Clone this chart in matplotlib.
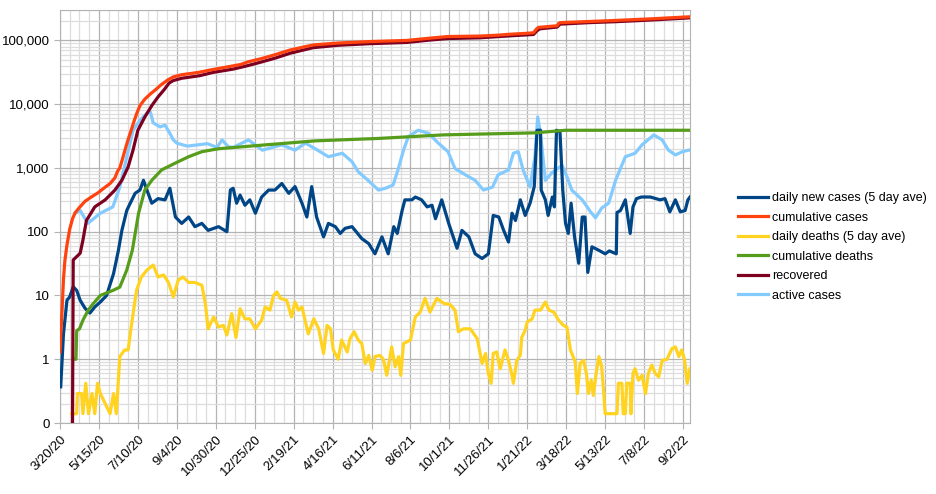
import pandas as pd
import matplotlib
matplotlib.use('Agg')
import matplotlib.pyplot as plt
import matplotlib.dates as mdates
from matplotlib.ticker import FixedLocator, LogLocator, NullFormatter

plt.rcParams['font.family'] = ['Liberation Sans', 'DejaVu Sans']

start = pd.Timestamp('2020-03-20')

# (days since 3/20/20, value)
new_cases = [(1, 0.37), (5, 2.5), (10, 8.4), (14, 9.5), (19, 13.7), (24, 12), (29, 8.4), (36, 6.3),
             (43, 5.3), (50, 6.6), (58, 7.9), (67, 10), (77, 22), (84, 51), (89, 105), (96, 215),
             (101, 280), (108, 400), (115, 450), (120, 640), (125, 450), (132, 280), (141, 330),
             (151, 316), (158, 480), (166, 170), (175, 135), (185, 170), (194, 120), (204, 135),
             (213, 105), (228, 120), (240, 100), (245, 450), (249, 480), (254, 280), (259, 375),
             (266, 260), (273, 316), (281, 195), (290, 350), (300, 450), (309, 450), (319, 570),
             (329, 400), (338, 510), (348, 280), (355, 170), (362, 510), (369, 170), (379, 83),
             (386, 135), (396, 120), (403, 94), (410, 113), (420, 120), (434, 78), (444, 65),
             (453, 45), (460, 69), (463, 83), (472, 45), (480, 120), (485, 94), (492, 215),
             (496, 316), (506, 316), (511, 350), (520, 316), (528, 245), (535, 260), (540, 160),
             (549, 316), (559, 135), (571, 55), (578, 105), (588, 83), (597, 45), (607, 38),
             (616, 45), (623, 180), (631, 170), (638, 105), (645, 69), (650, 195), (655, 150),
             (662, 316), (669, 180), (676, 280), (682, 510), (686, 3900), (691, 3900), (692, 450),
             (698, 316), (702, 180), (708, 350), (711, 245), (714, 3900), (719, 3700), (723, 450),
             (727, 135), (731, 94), (735, 280), (740, 83), (746, 32), (751, 170), (755, 170),
             (759, 23), (765, 58), (775, 51), (784, 45), (790, 50), (800, 45), (801, 200),
             (806, 215), (813, 316), (820, 94), (824, 245), (829, 330), (836, 350), (849, 350),
             (863, 316), (870, 330), (877, 205), (885, 316), (892, 205), (899, 215), (903, 316),
             (906, 350)]

cum_cases = [(0, 1.3), (1, 2.2), (3, 6), (5, 18), (7, 35), (10, 62), (14, 110), (18, 160), (22, 200),
             (28, 240), (36, 300), (45, 350), (55, 410), (65, 500), (72, 570), (79, 700), (83, 900),
             (86, 1000), (90, 1400), (94, 2000), (98, 2800), (102, 3800), (106, 5200), (110, 7000),
             (115, 9500), (122, 12000), (130, 14500), (137, 16700), (145, 20000), (155, 24000),
             (163, 26800), (175, 29000), (190, 30500), (201, 31800), (220, 35000), (240, 38300),
             (260, 42000), (270, 46000), (290, 52000), (310, 60000), (331, 70800), (364, 85000),
             (400, 91000), (446, 96000), (499, 100000), (530, 108000), (557, 115000), (604, 117000),
             (630, 121000), (647, 125000), (670, 129000), (681, 132000), (685, 150000), (688, 160000),
             (715, 170000), (717, 185000), (719, 190000), (760, 198000), (791, 204000), (850, 218000),
             (906, 235000)]

daily_deaths = [(17, 0.14), (24, 0.14), (25, 0.29), (31, 0.29), (33, 0.14), (37, 0.42), (41, 0.14),
                (46, 0.29), (50, 0.14), (54, 0.42), (58, 0.29), (72, 0.14), (77, 0.29), (81, 0.14),
                (86, 1.1), (93, 1.4), (98, 1.4), (103, 3.6), (110, 12), (117, 19.5), (125, 25),
                (134, 30), (141, 19.5), (149, 21), (156, 16), (163, 9.5), (170, 17.5), (177, 19.5),
                (185, 16), (194, 16), (204, 14.5), (209, 7.5), (213, 3.0), (221, 4.6), (228, 3.2),
                (235, 3.4), (240, 2.4), (247, 5.2), (253, 2.2), (259, 6.2), (266, 4.3), (273, 4.3),
                (281, 3.0), (290, 4.1), (295, 6.6), (302, 5.9), (307, 10), (312, 11.4), (317, 9),
                (326, 8.4), (333, 4.6), (338, 7.9), (343, 5.9), (348, 6.6), (357, 2.5), (365, 4.3),
                (372, 3.0), (379, 1.23), (384, 3.4), (389, 3.0), (393, 1.4), (400, 1.0), (405, 2.0),
                (413, 1.3), (417, 2.1), (423, 2.7), (429, 2.0), (434, 1.76), (439, 0.86), (444, 1.15),
                (449, 0.67), (453, 1.1), (460, 1.15), (465, 1.0), (470, 0.56), (477, 1.56), (482, 0.76),
                (487, 1.1), (490, 0.56), (494, 1.76), (504, 2.0), (511, 4.6), (518, 5.5), (525, 9),
                (532, 5.5), (542, 9), (552, 7.5), (561, 7.2), (568, 5.9), (573, 2.7), (580, 3.0),
                (590, 3.0), (600, 2.1), (607, 0.86), (612, 1.23), (616, 0.6), (620, 0.42), (623, 1.23),
                (628, 1.3), (633, 0.71), (640, 1.4), (645, 0.96), (650, 0.56), (652, 0.42), (657, 0.96),
                (662, 1.15), (664, 2.2), (669, 2.85), (672, 3.85), (679, 4.3), (683, 5.9), (691, 5.9),
                (698, 7.9), (703, 5.9), (710, 5.5), (717, 4.1), (724, 3.4), (729, 3.2), (734, 1.4),
                (741, 0.91), (744, 0.29), (748, 0.86), (753, 0.96), (757, 0.6), (760, 0.29),
                (764, 0.47), (767, 0.27), (771, 0.6), (775, 1.1), (779, 0.76), (782, 0.29), (784, 0.14),
                (801, 0.14), (803, 0.42), (808, 0.42), (810, 0.14), (813, 0.14), (815, 0.42),
                (820, 0.42), (821, 0.14), (824, 0.6), (827, 0.71), (832, 0.47), (837, 0.56),
                (842, 0.29), (846, 0.6), (851, 0.81), (856, 0.6), (861, 0.53), (866, 0.96), (873, 1.0),
                (880, 1.47), (885, 1.56), (890, 1.1), (894, 1.4), (898, 1.0), (902, 0.42), (906, 0.71)]

cum_deaths = [(19, 1), (23, 1), (24, 2.8), (28, 3), (33, 4.1), (41, 6), (48, 7.5), (58, 10), (76, 12),
              (86, 13.5), (96, 25), (104, 51), (113, 195), (122, 450), (132, 640), (146, 930),
              (165, 1180), (185, 1500), (204, 1800), (228, 2000), (295, 2300), (367, 2660),
              (457, 2900), (551, 3300), (683, 3550), (727, 3900), (906, 3900)]

recovered = [(18, 0.1), (19, 36), (29, 46), (33, 74), (38, 150), (50, 245), (65, 316), (79, 450),
             (89, 640), (98, 1040), (105, 1900), (112, 3900), (122, 6300), (132, 9500), (141, 13000),
             (150, 17000), (157, 21500), (163, 23500), (175, 25500), (201, 28000), (220, 31500),
             (249, 35500), (269, 40000), (290, 46000), (310, 53000), (331, 63000), (364, 77000),
             (400, 84000), (446, 89000), (499, 93000), (530, 101000), (557, 107000), (604, 110000),
             (647, 118000), (681, 124000), (686, 142000), (690, 152000), (715, 162000), (719, 180000),
             (760, 190000), (800, 197000), (850, 209000), (906, 226000)]

active = [(22, 195), (29, 215), (40, 135), (58, 195), (76, 245), (86, 500), (96, 1480), (105, 3900),
          (115, 5600), (125, 7200), (130, 7500), (134, 5100), (144, 4400), (151, 4700), (158, 3500),
          (163, 2750), (168, 2450), (183, 2200), (212, 2400), (226, 2100), (233, 2750), (242, 2150),
          (249, 2100), (271, 2750), (291, 1900), (319, 2300), (338, 1900), (353, 2450), (367, 2000),
          (386, 1500), (406, 1700), (420, 1250), (429, 870), (443, 640), (458, 450), (468, 480),
          (479, 540), (486, 930), (494, 1900), (501, 3100), (515, 3900), (530, 3500), (544, 2450),
          (558, 1800), (568, 980), (583, 780), (597, 640), (609, 450), (622, 500), (630, 780),
          (645, 930), (652, 1700), (659, 1800), (666, 930), (676, 500), (683, 1500), (687, 6300),
          (691, 3500), (698, 640), (707, 830), (722, 1100), (729, 730), (736, 450), (751, 316),
          (763, 205), (770, 165), (779, 235), (789, 280), (799, 640), (813, 1500), (827, 1700),
          (837, 2300), (854, 3300), (866, 2750), (875, 1900), (885, 1600), (895, 1800), (904, 1900)]

series = [
    ('daily new cases (5 day ave)', new_cases, '#004586', 3),
    ('cumulative cases', cum_cases, '#ff420e', 6),
    ('daily deaths (5 day ave)', daily_deaths, '#ffd320', 3),
    ('cumulative deaths', cum_deaths, '#579d1c', 3),
    ('recovered', recovered, '#7e0021', 5),
    ('active cases', active, '#83caff', 2),
]

fig = plt.figure(figsize=(9.36, 4.94), dpi=100)
ax = fig.add_axes([60 / 936, 1 - 423 / 494, 630 / 936, 413 / 494])

handles = []
for label, pairs, color, z in series:
    dates = start + pd.to_timedelta([p[0] for p in pairs], unit='D')
    vals = [p[1] for p in pairs]
    h, = ax.plot(dates, vals, color=color, lw=2.3, label=label, zorder=z, solid_joinstyle='round')
    handles.append(h)

ax.set_yscale('log')
ax.set_ylim(0.1, 3e5)
ax.set_xlim(start, start + pd.Timedelta(days=906))

yt = [0.1, 1, 10, 100, 1000, 10000, 100000]
ax.yaxis.set_major_locator(FixedLocator(yt))
ax.set_yticklabels(['0', '1', '10', '100', '1,000', '10,000', '100,000'])
ax.yaxis.set_minor_locator(LogLocator(base=10, subs=range(2, 10), numticks=20))
ax.yaxis.set_minor_formatter(NullFormatter())

major_dates = [start + pd.Timedelta(days=56 * i) for i in range(17)]
minor_dates = [start + pd.Timedelta(days=14 * i) for i in range(65)]
ax.xaxis.set_major_locator(FixedLocator(mdates.date2num(major_dates)))
ax.xaxis.set_minor_locator(FixedLocator(mdates.date2num(minor_dates)))
ax.set_xticklabels([f"{d.month}/{d.day}/{d.strftime('%y')}" for d in major_dates],
                   rotation=45, ha='right', rotation_mode='anchor')

ax.set_axisbelow(True)
ax.grid(which='minor', color='#dddddd', lw=0.9)
ax.grid(which='major', color='#b3b3b3', lw=0.9)
for s in ax.spines.values():
    s.set_color('#b3b3b3')
ax.tick_params(which='major', length=4, color='#b3b3b3', labelsize=9.5, labelcolor='black')
ax.tick_params(which='minor', length=0)

fig.legend(handles=handles, loc='center left', bbox_to_anchor=(727 / 936, 0.5), frameon=False,
           fontsize=9, handlelength=2.4, handletextpad=0.3, labelspacing=0.6)

fig.savefig('out.png', dpi=100)
